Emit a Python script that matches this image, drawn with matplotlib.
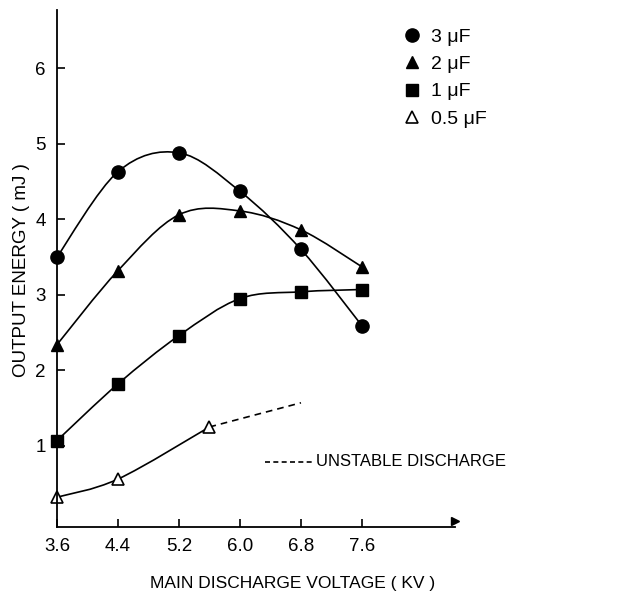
import matplotlib
matplotlib.use("Agg")
import matplotlib.pyplot as plt
from matplotlib.path import Path
from matplotlib.patches import PathPatch

plt.rcParams["font.family"] = ["Liberation Sans", "DejaVu Sans"]

voltage = [3.6, 4.4, 5.2, 6.0, 6.8, 7.6]
energy_3uf = [3.50, 4.63, 4.88, 4.37, 3.60, 2.59]
energy_2uf = [2.34, 3.32, 4.06, 4.11, 3.86, 3.37]
energy_1uf = [1.07, 1.82, 2.46, 2.95, 3.04, 3.07]
voltage_05uf = [3.6, 4.4, 5.6]
energy_05uf = [0.32, 0.56, 1.25]
unstable_voltage = [5.6, 6.8]
unstable_energy = [1.25, 1.57]
x_ticks = [3.6, 4.4, 5.2, 6.0, 6.8, 7.6]
y_ticks = [1, 2, 3, 4, 5, 6]


def smooth_curve(ax, xs, ys, **kw):
    """Catmull-Rom curve through the points, drawn as cubic Bezier path"""
    pts = list(zip(xs, ys))
    n = len(pts)
    verts = [pts[0]]
    codes = [Path.MOVETO]
    for i in range(n - 1):
        p0 = pts[max(i - 1, 0)]
        p1 = pts[i]
        p2 = pts[i + 1]
        p3 = pts[min(i + 2, n - 1)]
        c1 = (p1[0] + (p2[0] - p0[0]) / 6, p1[1] + (p2[1] - p0[1]) / 6)
        c2 = (p2[0] - (p3[0] - p1[0]) / 6, p2[1] - (p3[1] - p1[1]) / 6)
        verts += [c1, c2, p2]
        codes += [Path.CURVE4] * 3
    ax.add_patch(PathPatch(Path(verts, codes), fill=False, **kw))


fig = plt.figure(figsize=(6.44, 5.92), dpi=100)
ax = fig.add_axes([0.0885, 0.110, 0.618, 0.873])

line_kw = dict(edgecolor="black", linewidth=1.2)
smooth_curve(ax, voltage, energy_3uf, **line_kw)
smooth_curve(ax, voltage, energy_2uf, **line_kw)
smooth_curve(ax, voltage, energy_1uf, **line_kw)
smooth_curve(ax, voltage_05uf, energy_05uf, **line_kw)
ax.plot(unstable_voltage, unstable_energy, color="black", linestyle=(0, (4, 3)), linewidth=1.2)

ax.plot(voltage, energy_3uf, "o", color="black", markersize=9.5, label="3 \u03bcF", clip_on=False)
ax.plot(voltage, energy_2uf, "^", color="black", markersize=9, label="2 \u03bcF", clip_on=False)
ax.plot(voltage, energy_1uf, "s", color="black", markersize=9, label="1 \u03bcF", clip_on=False)
ax.plot(voltage_05uf, energy_05uf, "^", color="black", markerfacecolor="white",
        markeredgewidth=1.2, markersize=9, label="0.5 \u03bcF", clip_on=False)

ax.set_xlim(3.6, 8.82)
ax.set_ylim(-0.073, 6.77)
ax.set_xticks(x_ticks)
ax.set_xticklabels([f"{v:.1f}" for v in x_ticks])
ax.set_yticks(y_ticks)
ax.tick_params(direction="in", length=6, width=1.2, labelsize=13.5, pad=8)

for side in ["top", "right"]:
    ax.spines[side].set_visible(False)
for side in ["left", "bottom"]:
    ax.spines[side].set_linewidth(1.3)
ax.plot(1, 0, ">k", markersize=6, transform=ax.get_yaxis_transform(), clip_on=False)
ax.plot(0, 1, "^k", markersize=6, transform=ax.get_xaxis_transform(), clip_on=False)

ax.set_xlabel("MAIN DISCHARGE VOLTAGE ( KV )", fontsize=12.5)
ax.xaxis.set_label_coords(0.593, -0.095)
ax.set_ylabel("OUTPUT ENERGY ( mJ )", fontsize=13.5)
ax.yaxis.set_label_coords(-0.068, 0.497)

ax.legend(loc="upper left", bbox_to_anchor=(0.843, 0.98), frameon=False, fontsize=14,
          handletextpad=0.4, labelspacing=0.5, handlelength=1.2, borderaxespad=0)

ax.plot([0.523, 0.641], [0.126, 0.126], color="black", linestyle=(0, (3, 2)),
        linewidth=1.2, transform=ax.transAxes, clip_on=False)
ax.text(0.651, 0.126, "UNSTABLE DISCHARGE", transform=ax.transAxes, fontsize=12,
        va="center", ha="left")

fig.savefig("out.png", dpi=100)
